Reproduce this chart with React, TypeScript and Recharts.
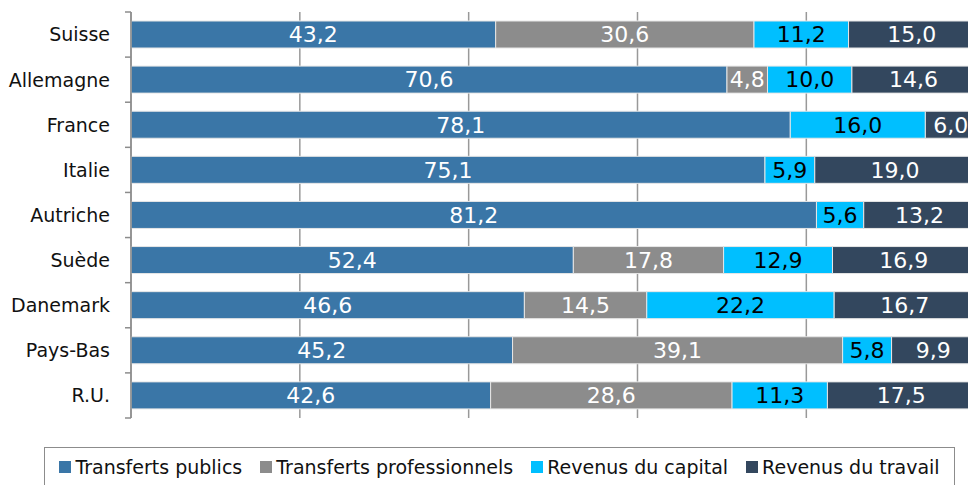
import { BarChart, Bar, XAxis, YAxis, CartesianGrid, LabelList } from 'recharts';

const countries = ['Suisse', 'Allemagne', 'France', 'Italie', 'Autriche', 'Suède', 'Danemark', 'Pays-Bas', 'R.U.'];
const publics = [43.2, 70.6, 78.1, 75.1, 81.2, 52.4, 46.6, 45.2, 42.6];
const professionnels = [30.6, 4.8, 0, 0, 0, 17.8, 14.5, 39.1, 28.6];
const capital = [11.2, 10.0, 16.0, 5.9, 5.6, 12.9, 22.2, 5.8, 11.3];
const travail = [15.0, 14.6, 6.0, 19.0, 13.2, 16.9, 16.7, 9.9, 17.5];
const xTicks = [0, 20, 40, 60, 80, 100];

const series = [
  { key: 'publics', name: 'Transferts publics', color: '#3a76a7', text: '#ffffff' },
  { key: 'professionnels', name: 'Transferts professionnels', color: '#8c8c8c', text: '#ffffff' },
  { key: 'capital', name: 'Revenus du capital', color: '#00bfff', text: '#000000' },
  { key: 'travail', name: 'Revenus du travail', color: '#33475e', text: '#ffffff' },
];

const data = countries.map((name, i) => ({
  name,
  publics: publics[i],
  professionnels: professionnels[i],
  capital: capital[i],
  travail: travail[i],
}));

const FONT = '"DejaVu Sans", sans-serif';
const W = 985;
const H = 500;
const MARGIN = { top: 12, right: 9, bottom: 82, left: 0 };
const AXIS_W = 131;
const BAND = (H - MARGIN.top - MARGIN.bottom) / countries.length;

const fmt = (v: any) => (v ? Number(v).toFixed(1).replace('.', ',') : '');

function CountryTick(props: any) {
  const { x, y, payload, index } = props;
  const ax = x + 21;
  return (
    <g>
      <line x1={ax - 6} x2={ax} y1={y - BAND / 2} y2={y - BAND / 2} stroke="#8c8c8c" strokeWidth={1.5} />
      {index === countries.length - 1 && (
        <line x1={ax - 6} x2={ax} y1={y + BAND / 2} y2={y + BAND / 2} stroke="#8c8c8c" strokeWidth={1.5} />
      )}
      <text x={x} y={y} dy="0.36em" textAnchor="end" fontSize={19} fontFamily={FONT} fill="#111">
        {payload.value}
      </text>
    </g>
  );
}

function LegendBox() {
  return (
    <div
      style={{
        position: 'absolute',
        left: 44,
        top: 447,
        width: 911,
        border: '1.5px solid #8c8c8c',
        height: 46,
        boxSizing: 'border-box',
        display: 'flex',
        alignItems: 'flex-start',
        paddingTop: 8,
        justifyContent: 'center',
        gap: 18,
        fontFamily: FONT,
        fontSize: 19,
        color: '#111',
      }}
    >
      {series.map((s) => (
        <div key={s.key} style={{ display: 'flex', alignItems: 'center', gap: 4 }}>
          <span style={{ width: 12, height: 12, background: s.color, display: 'inline-block' }} />
          <span>{s.name}</span>
        </div>
      ))}
    </div>
  );
}

export default function App() {
  return (
    <div style={{ position: 'absolute', left: 0, top: 0, width: 968, height: 485, overflow: 'hidden', background: '#fff' }}>
      <BarChart width={W} height={H} data={data} layout="vertical" margin={MARGIN} barSize={27}>
        <CartesianGrid horizontal={false} stroke="#999" strokeWidth={1.5} />
        <XAxis type="number" domain={[0, 100]} ticks={xTicks} hide />
        <YAxis
          type="category"
          dataKey="name"
          width={AXIS_W}
          axisLine={{ stroke: '#8c8c8c', strokeWidth: 1.5 }}
          tickLine={false}
          tickSize={0}
          tickMargin={21}
          tick={<CountryTick />}
          interval={0}
        />
        {series.map((s) => (
          <Bar key={s.key} dataKey={s.key} name={s.name} stackId="a" fill={s.color} stroke="#e6e6e6" strokeWidth={1} isAnimationActive={false}>
            <LabelList dataKey={s.key} position="center" formatter={fmt} fill={s.text} fontSize={22} fontFamily={FONT} />
          </Bar>
        ))}
      </BarChart>
      <LegendBox />
    </div>
  );
}
